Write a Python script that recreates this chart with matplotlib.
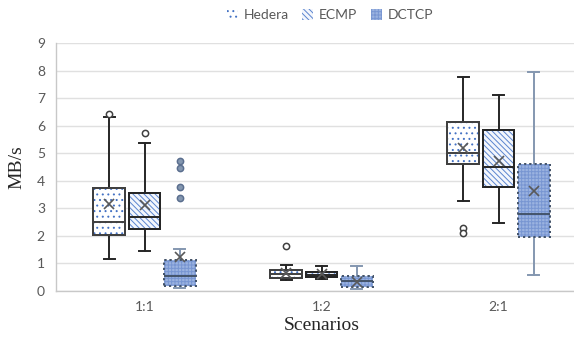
import numpy as np
import matplotlib
matplotlib.use('Agg')
import matplotlib.pyplot as plt
from matplotlib.patches import Patch, PathPatch

# ─── data (MB/s) ─────────────────────────────────────────────
scenarios = ['1:1', '1:2', '2:1']
series = ['Hedera', 'ECMP', 'DCTCP']

# per series, one entry per scenario
whislo = {'Hedera': [1.15, 0.40, 3.25],
          'ECMP':   [1.46, 0.45, 2.47],
          'DCTCP':  [0.11, 0.07, 0.59]}
q1 =     {'Hedera': [2.05, 0.47, 4.60],
          'ECMP':   [2.25, 0.49, 3.78],
          'DCTCP':  [0.19, 0.16, 1.95]}
med =    {'Hedera': [2.52, 0.61, 5.01],
          'ECMP':   [2.70, 0.59, 4.49],
          'DCTCP':  [0.55, 0.36, 2.81]}
q3 =     {'Hedera': [3.72, 0.76, 6.14],
          'ECMP':   [3.55, 0.70, 5.84],
          'DCTCP':  [1.11, 0.55, 4.60]}
whishi = {'Hedera': [6.31, 0.94, 7.76],
          'ECMP':   [5.37, 0.89, 7.11],
          'DCTCP':  [1.51, 0.89, 7.93]}
means =  {'Hedera': [3.17, 0.67, 5.19],
          'ECMP':   [3.12, 0.62, 4.73],
          'DCTCP':  [1.25, 0.33, 3.63]}
fliers = {'Hedera': [[6.42], [1.64], [2.27, 2.10]],
          'ECMP':   [[5.75], [], []],
          'DCTCP':  [[4.73, 4.48, 3.78, 3.39], [], []]}

offsets = {'Hedera': -0.2, 'ECMP': 0.0, 'DCTCP': 0.2}
box_w = 0.178

styles = {
    'Hedera': dict(face='white', hatch='...', hatch_col='#4472c4', edge='#404040',
                   line='#262626', lw=1.4, flier_face='white', flier_edge='#404040'),
    'ECMP':   dict(face='#f3f6fc', hatch='\\' * 6, hatch_col='#5a84cf', edge='#262626',
                   line='#262626', lw=1.4, flier_face='white', flier_edge='#404040'),
    'DCTCP':  dict(face='#9bb3e0', hatch='+' * 5, hatch_col='#7896d2', edge='#44546a',
                   line='#8497b0', lw=1.4, flier_face='#8497b0', flier_edge='#5b6f8f'),
}

plt.rcParams['hatch.linewidth'] = 0.7

fig = plt.figure(figsize=(5.74, 3.47), dpi=100)
ax = fig.add_axes([56 / 574, 1 - 291 / 347, 531 / 574, (291 - 43) / 347])

x = np.arange(len(scenarios))
for s in series:
    st = styles[s]
    stats = []
    for i in range(len(scenarios)):
        stats.append(dict(med=med[s][i], q1=q1[s][i], q3=q3[s][i],
                          whislo=whislo[s][i], whishi=whishi[s][i],
                          mean=means[s][i], fliers=fliers[s][i]))
    bp = ax.bxp(stats, positions=x + offsets[s], widths=box_w, patch_artist=True,
                showmeans=True, showcaps=True,
                boxprops=dict(facecolor=st['face'], edgecolor=st['edge'], linewidth=st['lw'],
                              linestyle=':' if s == 'DCTCP' else '-'),
                whiskerprops=dict(color=st['line'], linewidth=st['lw']),
                capprops=dict(color=st['line'], linewidth=st['lw']),
                medianprops=dict(color=st['edge'], linewidth=st['lw']),
                meanprops=dict(marker='x', markeredgecolor='#595959', markersize=7,
                               markeredgewidth=1.2),
                flierprops=dict(marker='o', markerfacecolor=st['flier_face'],
                                markeredgecolor=st['flier_edge'], markersize=4.5,
                                markeredgewidth=1.1),
                capwidths=box_w * 0.35, manage_ticks=False, zorder=3)
    # hatch layer, then the box outline on top of it
    for b in bp['boxes']:
        ax.add_patch(PathPatch(b.get_path(), facecolor='none', edgecolor=st['hatch_col'],
                               hatch=st['hatch'], linewidth=0, zorder=3.1))
        ax.add_patch(PathPatch(b.get_path(), facecolor='none', edgecolor=st['edge'],
                               linewidth=st['lw'], linestyle=b.get_linestyle(), zorder=3.2))
    for m in bp['medians']:
        m.set_zorder(3.3)
    for m in bp['means']:
        m.set_zorder(3.4)

ax.set_xlim(-0.5, 2.5)
ax.set_ylim(0, 9)
ax.set_yticks(range(10))
ax.set_xticks(x)
ax.set_xticklabels(scenarios)
ax.tick_params(axis='both', length=0, labelsize=10, colors='#595959', pad=8,
               labelfontfamily='Lato')
ax.tick_params(axis='x', pad=7)
ax.grid(axis='y', color='#e0e0e0', linewidth=1.0, zorder=0)
ax.set_axisbelow(True)
for side in ['top', 'right']:
    ax.spines[side].set_visible(False)
for side in ['left', 'bottom']:
    ax.spines[side].set_color('#c8c8c8')
    ax.spines[side].set_linewidth(1.0)

ax.set_ylabel('MB/s', family='Liberation Serif', fontsize=14, color='#262626', labelpad=8)
ax.set_xlabel('Scenarios', family='Liberation Serif', fontsize=14, color='#262626', labelpad=3)

handles = []
for s in series:
    st = styles[s]
    handles.append(Patch(facecolor=st['face'] if s != 'Hedera' else 'white',
                         edgecolor=st['hatch_col'], hatch=st['hatch'], linewidth=0))
leg = fig.legend(handles, series, loc='center', bbox_to_anchor=(330 / 574, 1 - 15 / 347),
                 ncol=3, frameon=False, prop=dict(family='Lato', size=10),
                 handlelength=0.8, handleheight=0.8, handletextpad=0.4, columnspacing=1.0)
for t in leg.get_texts():
    t.set_color('#595959')

fig.savefig('out.png', dpi=100)
